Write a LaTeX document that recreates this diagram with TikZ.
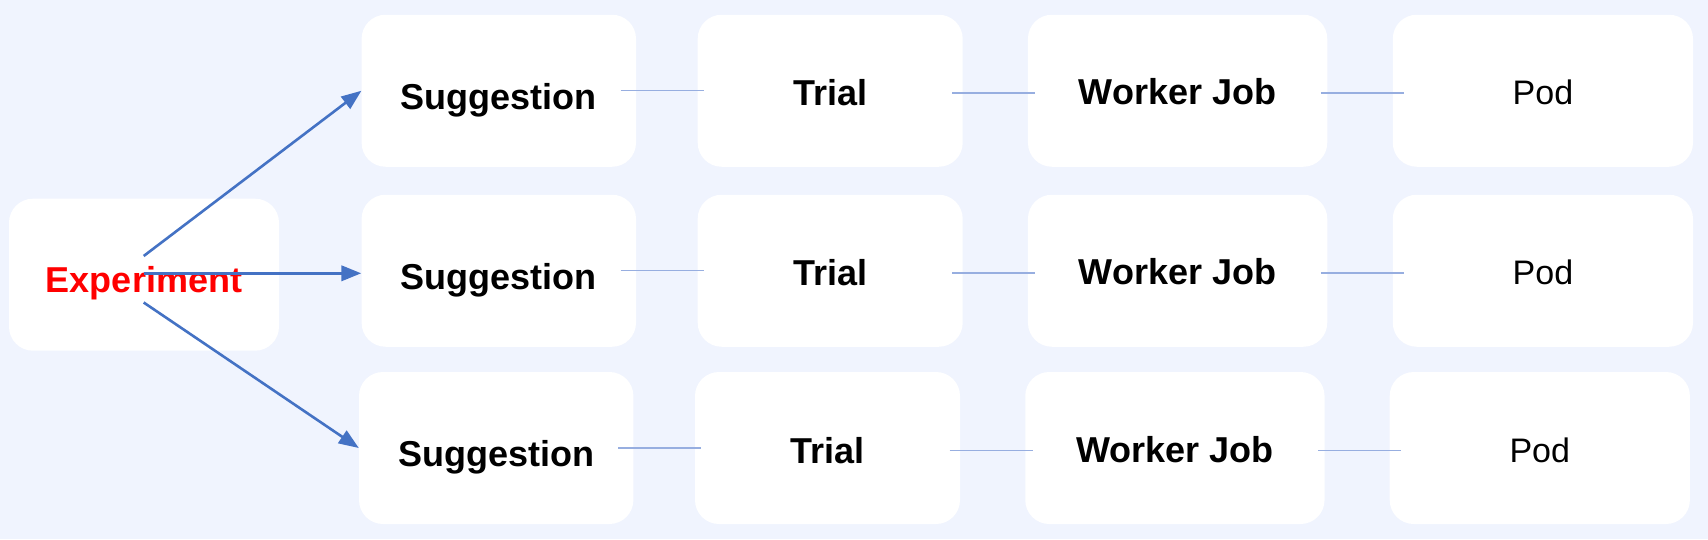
\documentclass[tikz,border=0pt]{standalone}
\usepackage{fontspec}
\setmainfont{Liberation Sans}
\usetikzlibrary{arrows.meta,calc}
\definecolor{bgc}{RGB}{240,244,254}
\definecolor{arrowc}{HTML}{4472C4}
\definecolor{linkc}{HTML}{97AEE0}
\tikzset{
  box/.style={rectangle, rounded corners=24pt, fill=white, inner sep=0pt, minimum height=152pt, text depth=0pt},
  bsug/.style={box, minimum width=274.4pt, text height=37.2pt, font=\fontsize{36}{40}\selectfont\bfseries},
  btri/.style={box, minimum width=265pt, text height=30.4pt, font=\fontsize{36}{40}\selectfont\bfseries},
  bwrk/.style={box, minimum width=299.3pt, text height=28.4pt, font=\fontsize{36}{40}\selectfont\bfseries},
  bpod/.style={box, minimum width=300.2pt, text height=28.4pt, font=\fontsize{34}{38}\selectfont},
  bexp/.style={box, minimum width=270pt, text height=34.6pt, text=red, font=\fontsize{36}{40}\selectfont\bfseries},
  arr/.style={draw=arrowc, -{Triangle[length=20pt,width=15pt]}},
  link/.style={draw=linkc, line width=1.8pt},
}
\begin{document}
\begin{tikzpicture}[x=1pt,y=-1pt]
\fill[bgc] (0,0) rectangle (1708,539);
\useasboundingbox (0,0) rectangle (1708,539);
% experiment
\node[bexp] (exp) at (144,274.7) {Experiment};
% rows
\node[bsug] (s1) at (498.8,90.75) {Suggestion};
\node[btri] (t1) at (830.2,90.75) {Trial};
\node[bwrk] (w1) at (1177.6,90.75) {Worker Job};
\node[bpod] (p1) at (1542.9,90.75) {Pod};
\node[bsug] (s2) at (498.8,270.75) {Suggestion};
\node[btri] (t2) at (830.2,270.75) {Trial};
\node[bwrk] (w2) at (1177.6,270.75) {Worker Job};
\node[bpod] (p2) at (1542.9,270.75) {Pod};
\node[bsug] (s3) at (496.2,448) {Suggestion};
\node[btri] (t3) at (827.5,448) {Trial};
\node[bwrk] (w3) at (1174.9,448) {Worker Job};
\node[bpod] (p3) at (1539.8,448) {Pod};
% links
\foreach \r in {1,2,3} {
  \draw[link] ($(s\r.east)+(-15.5,-0.3)$) -- ($(t\r.west)+(6.3,-0.3)$);
  \draw[link] ($(t\r.east)+(-10.7,2.5)$) -- ($(w\r.west)+(7.7,2.5)$);
  \draw[link] ($(w\r.east)+(-6.7,2.5)$) -- ($(p\r.west)+(11.2,2.5)$);
}
% arrows from experiment
\coordinate (e1) at ($(exp.center)+(-0.3,-18.7)$);
\coordinate (e2) at ($(exp.center)+(-0.3,-1.4)$);
\coordinate (e3) at ($(exp.center)+(-0.3,27.8)$);
\draw[arr, line width=2.6pt] (e1) -- (s1.west);
\draw[arr, line width=3.6pt] (e2) -- (e2 -| s2.west);
\draw[arr, line width=2.6pt] (e3) -- (s3.west);
\end{tikzpicture}
\end{document}
